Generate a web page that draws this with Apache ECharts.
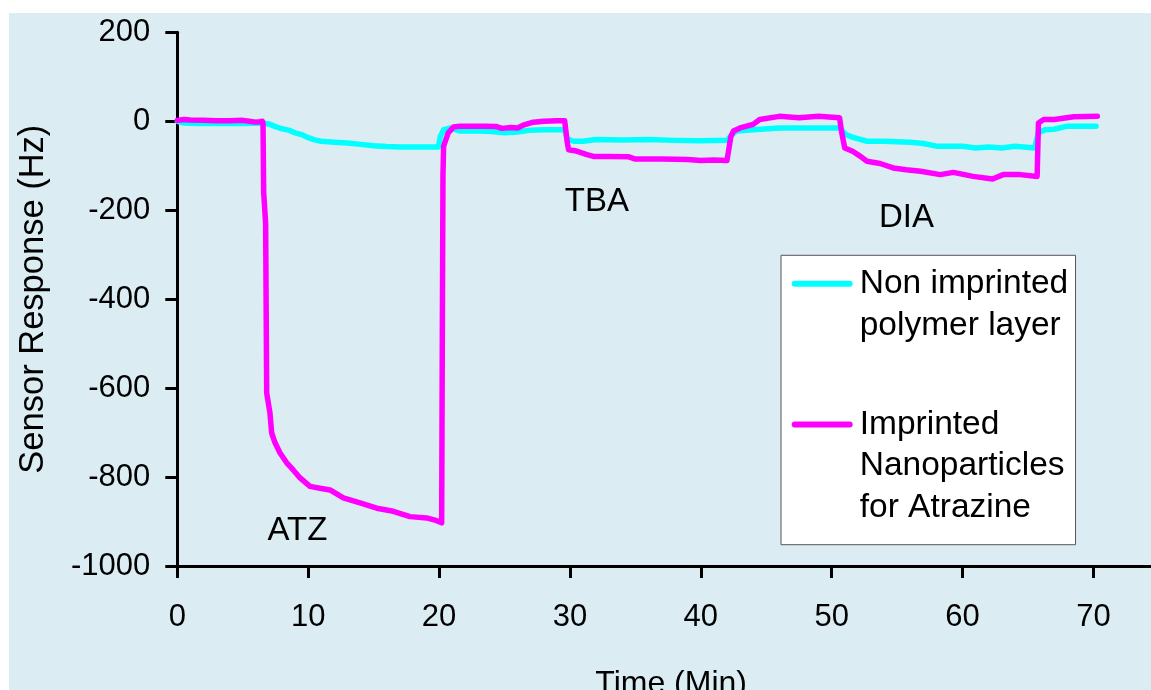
<!DOCTYPE html>
<html>
<head>
<meta charset="utf-8">
<script src="https://cdn.jsdelivr.net/npm/echarts@6/dist/echarts.min.js"></script>
<style>
  html, body { margin: 0; padding: 0; background: #ffffff; width: 1151px; height: 690px; overflow: hidden; }
  #chart { position: absolute; left: 9px; top: 13px; width: 1142px; height: 677px; }
</style>
</head>
<body>
<div id="chart"></div>
<script>
// Sensor response (Hz) against time (min), read as [time, response] pairs
const seriesNames = ['Non imprinted polymer layer', 'Imprinted Nanoparticles for Atrazine'];
const legendLines = {
  'Non imprinted polymer layer': ['Non imprinted', 'polymer layer'],
  'Imprinted Nanoparticles for Atrazine': ['Imprinted', 'Nanoparticles', 'for Atrazine']
};

const nonImprinted = [
  [0.0, 0], [0.5, -4], [1.5, -5], [3.0, -5], [5.0, -5], [6.5, -4], [7.0, -6], [7.5, -12],
  [8.0, -17], [8.5, -20], [9.0, -26], [9.5, -30], [10.0, -37], [10.5, -42], [11.0, -45],
  [12.0, -47], [13.0, -49], [14.0, -52], [15.0, -55], [16.0, -57], [17.0, -58], [18.0, -58],
  [19.0, -58], [19.95, -58], [20.1, -34], [20.35, -19], [20.9, -15], [21.6, -22], [23.0, -22],
  [24.0, -23], [25.0, -26], [26.0, -24], [27.0, -20], [28.0, -19], [29.0, -19], [29.6, -19],
  [29.8, -40], [30.3, -45], [31.0, -45], [32.0, -41], [34.0, -42], [36.0, -41], [38.0, -43],
  [40.0, -44], [42.0, -43], [42.4, -30], [42.7, -22], [44.0, -19], [46.0, -15], [48.0, -15],
  [50.0, -15], [50.6, -15], [51.1, -30], [51.7, -37], [52.7, -45], [54.0, -45], [56.0, -47],
  [57.0, -50], [58.0, -56], [60.0, -56], [61.0, -60], [62.0, -58], [63.0, -60], [64.0, -56],
  [65.5, -60], [65.8, -26], [66.3, -19], [67.0, -18], [68.0, -11], [70.2, -11]
];

const imprinted = [
  [0.0, 2], [0.5, 4], [1.0, 3], [2.0, 2], [3.0, 1], [4.0, 1], [5.0, 2], [5.5, 0], [6.0, -2],
  [6.3, -1], [6.5, 0], [6.55, -5], [6.6, -160], [6.75, -230], [6.83, -611], [7.08, -656],
  [7.21, -701], [7.47, -723], [7.85, -746], [8.36, -768], [8.86, -784], [9.38, -802],
  [10.14, -821], [10.9, -825], [11.67, -829], [12.69, -847], [13.96, -858], [15.24, -870],
  [16.5, -877], [17.78, -889], [19.06, -892], [19.82, -898], [20.2, -903], [20.25, -480],
  [20.3, -120], [20.35, -56], [20.7, -26], [21.1, -13], [21.6, -11], [22.5, -11], [23.5, -11],
  [24.4, -12], [24.8, -16], [25.5, -14], [26.0, -15], [26.5, -8], [27.2, -2], [28.0, 0],
  [29.0, 1], [29.6, 1], [29.8, -49], [29.9, -64], [30.5, -67], [31.3, -75], [31.8, -79],
  [33.0, -79], [34.5, -80], [35.0, -85], [37.0, -85], [39.0, -86], [40.0, -88], [41.0, -87],
  [42.0, -88.5], [42.1, -88], [42.3, -34], [42.5, -22], [43.0, -15], [44.0, -7], [44.5, 4],
  [46.0, 11], [47.5, 8], [49.0, 11], [50.6, 8], [50.77, -26], [51.0, -60], [51.6, -67.5],
  [52.2, -79], [52.7, -90], [53.7, -95], [54.7, -105], [55.7, -109], [56.8, -112.5],
  [58.3, -120], [59.3, -115], [60.8, -124], [62.3, -130], [63.1, -120], [64.4, -120],
  [65.7, -124], [65.8, -4], [66.2, 4], [67.0, 4], [68.5, 10], [70.3, 11]
];

// Analyte labels placed at [time, response]
const analyteLabels = [
  { name: 'ATZ', value: [9.22, -922] },
  { name: 'TBA', value: [32.1, -183] },
  { name: 'DIA', value: [55.75, -219] }
];

const timeTicks = [0, 10, 20, 30, 40, 50, 60, 70];

const FONT = '"Liberation Sans", Arial, sans-serif';
const LH = 41.7;

const chart = echarts.init(document.getElementById('chart'), null, { renderer: 'canvas' });

chart.setOption({
  backgroundColor: '#dbedf3',
  animation: false,
  textStyle: { fontFamily: FONT, color: '#000' },
  grid: { left: 168.3, right: 0, top: 19.3, bottom: 124, outerBoundsMode: 'none', containLabel: false },
  xAxis: {
    type: 'value',
    min: 0,
    max: 74.4,
    name: 'Time (Min)',
    nameLocation: 'middle',
    nameGap: 102,
    nameTextStyle: { fontSize: 32, color: '#000', fontFamily: FONT, padding: [0, 0, 0, 14] },
    axisLine: { onZero: false, lineStyle: { color: '#000', width: 3 } },
    axisTick: { customValues: timeTicks, length: 12, lineStyle: { color: '#000', width: 3 } },
    axisLabel: {
      customValues: timeTicks, margin: 36, fontSize: 31, color: '#000', fontFamily: FONT,
      formatter: v => String(v)
    },
    splitLine: { show: false }
  },
  yAxis: {
    type: 'value',
    min: -1000,
    max: 200,
    interval: 200,
    name: 'Sensor Response (Hz)',
    nameLocation: 'middle',
    nameGap: 126,
    nameTextStyle: { fontSize: 34.5, color: '#000', fontFamily: FONT },
    axisLine: { lineStyle: { color: '#000', width: 3 } },
    axisTick: { length: 12, lineStyle: { color: '#000', width: 3 } },
    axisLabel: { margin: 27, fontSize: 31, color: '#000', fontFamily: FONT, formatter: v => String(v) },
    splitLine: { show: false }
  },
  legend: {
    orient: 'vertical',
    left: 772,
    top: 242.3,
    itemWidth: 55,
    itemHeight: 14,
    itemGap: 61.3,
    padding: [7.5, 7.3, 19.8, 10.7],
    backgroundColor: '#ffffff',
    borderColor: '#555555',
    borderWidth: 1,
    selectedMode: false,
    lineStyle: { width: 6, cap: 'round' },
    itemStyle: { opacity: 0, color: 'transparent', borderWidth: 0 },
    data: [
      { name: seriesNames[0], textStyle: { padding: [0, 0, -LH, 5] } },
      { name: seriesNames[1], textStyle: { padding: [0, 0, -2 * LH, 5] } }
    ],
    formatter: name => legendLines[name].map(s => '{t|' + s + '}').join('\n'),
    textStyle: {
      fontSize: 33.5, lineHeight: LH, color: '#000', fontFamily: FONT,
      rich: { t: { fontSize: 33.5, lineHeight: LH, color: '#000', fontFamily: FONT } }
    }
  },
  series: [
    {
      name: seriesNames[0],
      type: 'line',
      data: nonImprinted,
      symbol: 'none',
      lineStyle: { color: '#00ffff', width: 5.5, join: 'round', cap: 'round' },
      itemStyle: { color: '#00ffff' }
    },
    {
      name: seriesNames[1],
      type: 'line',
      data: imprinted,
      symbol: 'none',
      lineStyle: { color: '#ff00ff', width: 5.5, join: 'round', cap: 'round' },
      itemStyle: { color: '#ff00ff' }
    },
    {
      name: 'labels',
      type: 'scatter',
      data: analyteLabels,
      symbol: 'circle',
      symbolSize: 1,
      silent: true,
      itemStyle: { color: 'transparent', opacity: 1 },
      label: {
        show: true, position: [0, 0], align: 'center', verticalAlign: 'middle',
        formatter: p => p.name, opacity: 1,
        fontSize: 33, color: '#000000', fontFamily: FONT
      }
    }
  ]
});
</script>
</body>
</html>
